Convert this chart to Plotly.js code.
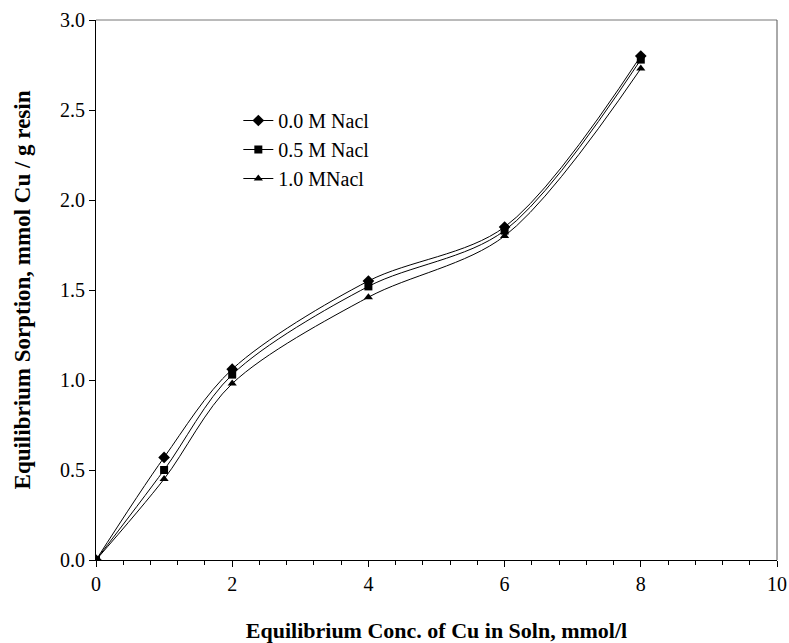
<!DOCTYPE html>
<html>
<head>
<meta charset="utf-8">
<script src="https://cdn.plot.ly/plotly-3.0.1.min.js"></script>
<style>html,body{margin:0;padding:0;background:#fff;}#chart{width:789px;height:643px;}</style>
</head>
<body>
<div id="chart"></div>
<script>
const xConc = [0, 1, 2, 4, 6, 8];
const seriesNames = ["0.0 M Nacl", "0.5 M Nacl", "1.0 MNacl"];
const sorp00 = [0, 0.57, 1.06, 1.55, 1.85, 2.80];
const sorp05 = [0, 0.50, 1.03, 1.52, 1.83, 2.78];
const sorp10 = [0, 0.45, 0.98, 1.46, 1.80, 2.73];
const xTicks = [0, 2, 4, 6, 8, 10];
const yTicks = [0.0, 0.5, 1.0, 1.5, 2.0, 2.5, 3.0];

const font = "'Liberation Serif', 'Times New Roman', serif";
const symbols = ["diamond", "square", "triangle-up"];
const data = [sorp00, sorp05, sorp10].map((ys, i) => ({
  x: xConc, y: ys, name: seriesNames[i], type: "scatter", mode: "lines+markers",
  line: {color: "#000", width: 1, shape: "spline", smoothing: 0.9},
  marker: {symbol: symbols[i], size: i === 0 ? 9 : 8, color: "#000"}
}));

const layout = {
  width: 789, height: 643,
  margin: {l: 96, r: 12, t: 20, b: 83},
  paper_bgcolor: "#fff", plot_bgcolor: "#fff",
  font: {family: font, size: 20, color: "#000"},
  showlegend: true,
  legend: {x: 0.209, y: 0.85, xanchor: "left", yanchor: "top", bgcolor: "rgba(0,0,0,0)",
           font: {family: font, size: 20, color: "#000"}, itemwidth: 30, tracegroupgap: 0},
  xaxis: {
    range: [0, 10], tickvals: xTicks, ticktext: xTicks.map(String),
    showgrid: false, zeroline: false, showline: true, linecolor: "#000", linewidth: 1,
    ticks: "outside", ticklen: 6, tickcolor: "#000", ticklabeloverflow: "allow",
    minor: {dtick: 0.4, tick0: 0, ticks: "outside", ticklen: 4, tickcolor: "#000", showgrid: false},
    tickfont: {family: font, size: 20},
    title: {text: "<b>Equilibrium Conc. of Cu in Soln, mmol/l</b>", font: {family: font, size: 22}, standoff: 29}
  },
  yaxis: {
    range: [0, 3], tickvals: yTicks, ticktext: yTicks.map(v => v.toFixed(1)),
    showgrid: false, zeroline: false, showline: true, linecolor: "#000", linewidth: 1,
    ticks: "outside", ticklen: 6, tickcolor: "#000",
    tickfont: {family: font, size: 20},
    title: {text: "<b>Equilibrium Sorption, mmol Cu / g resin</b>", font: {family: font, size: 23}, standoff: 22}
  },
  shapes: [
    {type: "line", xref: "paper", yref: "paper", x0: 0, x1: 1, y0: 1, y1: 1, line: {color: "#777", width: 1}},
    {type: "line", xref: "paper", yref: "paper", x0: 1, x1: 1, y0: 0, y1: 1, line: {color: "#555", width: 1}}
  ]
};
Plotly.newPlot("chart", data, layout, {displayModeBar: false, staticPlot: true});
</script>
</body>
</html>
